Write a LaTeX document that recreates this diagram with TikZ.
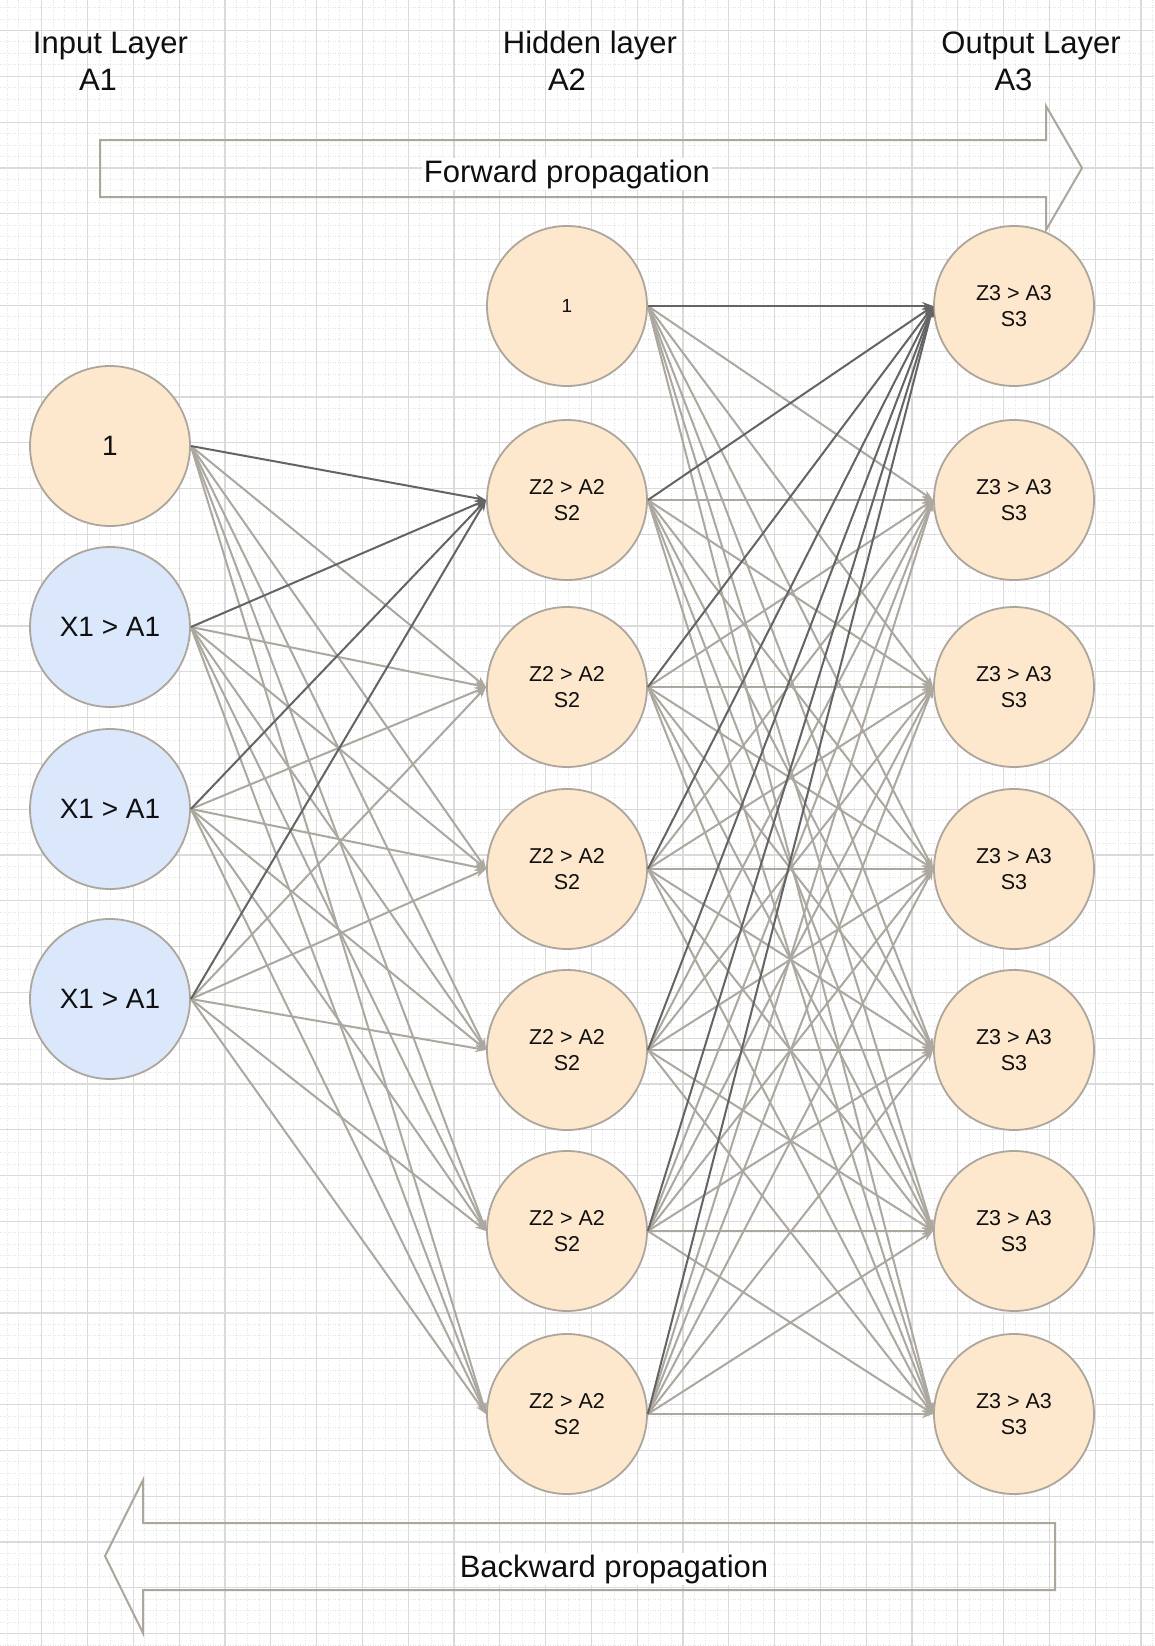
\documentclass[tikz,border=0pt]{standalone}
\usepackage{fontspec}
\setmainfont{Liberation Sans}
\usetikzlibrary{arrows.meta}
\definecolor{orangef}{RGB}{254,232,205}
\definecolor{bluef}{RGB}{219,232,251}
\definecolor{circbord}{RGB}{172,166,156}
\definecolor{edgelight}{RGB}{172,168,160}
\definecolor{edgedark}{RGB}{100,100,100}
\definecolor{gridmajor}{RGB}{218,218,218}
\definecolor{gridminor}{RGB}{228,228,228}
\definecolor{txt}{RGB}{15,15,15}
\tikzset{
  neuron/.style={circle, draw=circbord, line width=1.8pt, minimum size=160pt, inner sep=0pt, align=center, text=txt},
  inode/.style={neuron, font=\fontsize{28}{34}\selectfont},
  hnode/.style={neuron, fill=orangef, font=\fontsize{21.5}{26}\selectfont},
  smallone/.style={neuron, fill=orangef, font=\fontsize{19}{22}\selectfont},
  ledge/.style={draw=edgelight, line width=2pt, -{Stealth[length=11pt,width=8pt]}},
  dedge/.style={draw=edgedark, line width=2pt, -{Stealth[length=11pt,width=8pt]}},
  arrowshape/.style={draw=circbord, line width=2pt, line join=miter},
  biglabel/.style={font=\fontsize{31}{37}\selectfont, text=txt, inner sep=2pt},
  gmaj/.style={draw=gridmajor, line width=1.2pt},
  gmin/.style={draw=gridminor, line width=0.9pt, dash pattern=on 1pt off 1.5pt},
}
\begin{document}
\begin{tikzpicture}[x=1pt,y=-1pt]
\useasboundingbox (0,0) rectangle (1154,1646);
\fill[white] (0,0) rectangle (1154,1646);
% minor grid
\foreach \k in {-4,...,98} \draw[gmin] ({41.7+\k*11.45},0) -- ({41.7+\k*11.45},1646);
\foreach \k in {-3,...,141} \draw[gmin] (0,{30.5+\k*11.45}) -- (1154,{30.5+\k*11.45});
% major grid
\foreach \k in {0,...,24} \draw[gmaj] ({41.7+\k*45.8},0) -- ({41.7+\k*45.8},1646);
\foreach \k in {0,...,35} \draw[gmaj] (0,{30.5+\k*45.8}) -- (1154,{30.5+\k*45.8});

% titles
\node[biglabel, anchor=base] (t1) at (110.5,53) {Input Layer};
\node[biglabel, anchor=base] (a1) at (98,90.5) {A1};
\node[biglabel, anchor=base] (t2) at (590,53) {Hidden layer};
\node[biglabel, anchor=base] (a2) at (567,90.5) {A2};
\node[biglabel, anchor=base] (t3) at (1031,53) {Output Layer};
\node[biglabel, anchor=base] (a3) at (1013.5,90.5) {A3};

% propagation arrows
\draw[arrowshape] (100,140) -- (1046,140) -- (1046,106) -- (1082,168) -- (1046,230) -- (1046,197) -- (100,197) -- cycle;
\node[biglabel, fill=white, anchor=base] (fwd) at (567,182) {Forward propagation};
\draw[arrowshape] (1055,1523) -- (143,1523) -- (143,1480) -- (105,1556) -- (143,1633) -- (143,1590) -- (1055,1590) -- cycle;
\node[biglabel, fill=white, anchor=base] (bwd) at (614,1577) {Backward propagation};

% input layer
\node[inode, fill=orangef] (i0) at (110,446) {1};
\node[inode, fill=bluef] (i1) at (110,627) {X1 > A1};
\node[inode, fill=bluef] (i2) at (110,809) {X1 > A1};
\node[inode, fill=bluef] (i3) at (110,999) {X1 > A1};

% hidden layer
\node[smallone] (h1) at (567,306) {1};
\node[hnode] (h2) at (567,500) {Z2 > A2\\S2};
\node[hnode] (h3) at (567,687) {Z2 > A2\\S2};
\node[hnode] (h4) at (567,869) {Z2 > A2\\S2};
\node[hnode] (h5) at (567,1050) {Z2 > A2\\S2};
\node[hnode] (h6) at (567,1231) {Z2 > A2\\S2};
\node[hnode] (h7) at (567,1414) {Z2 > A2\\S2};

% output layer
\node[hnode] (o1) at (1014,306) {Z3 > A3\\S3};
\node[hnode] (o2) at (1014,500) {Z3 > A3\\S3};
\node[hnode] (o3) at (1014,687) {Z3 > A3\\S3};
\node[hnode] (o4) at (1014,869) {Z3 > A3\\S3};
\node[hnode] (o5) at (1014,1050) {Z3 > A3\\S3};
\node[hnode] (o6) at (1014,1231) {Z3 > A3\\S3};
\node[hnode] (o7) at (1014,1414) {Z3 > A3\\S3};

% light connections
\foreach \s in {0,...,3} \foreach \t in {3,...,7} \draw[ledge] (i\s.east) -- (h\t.west);
\foreach \s in {1,...,7} \foreach \t in {2,...,7} \draw[ledge] (h\s.east) -- (o\t.west);
% dark connections
\foreach \s in {0,...,3} \draw[dedge] (i\s.east) -- (h2.west);
\foreach \s in {1,...,7} \draw[dedge] (h\s.east) -- (o1.west);
\end{tikzpicture}
\end{document}
